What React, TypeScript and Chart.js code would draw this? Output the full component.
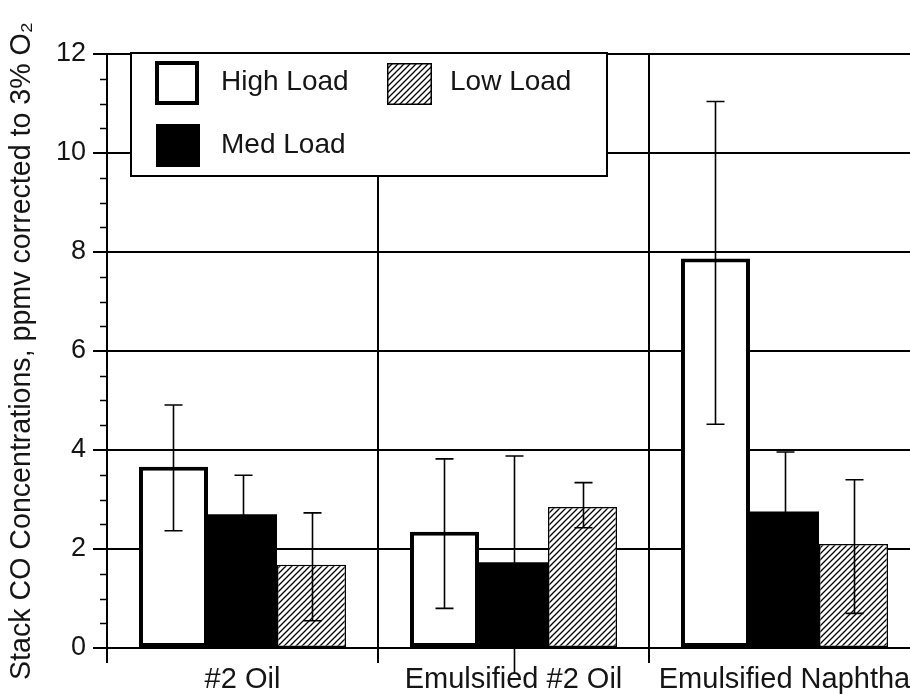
import React, { useEffect, useRef } from 'react';
import { Chart, registerables } from 'chart.js';

Chart.register(...registerables);

// ---- data ----
const categories = ['#2 Oil', 'Emulsified #2 Oil', 'Emulsified Naphtha'];
const seriesNames = ['High Load', 'Med Load', 'Low Load'];

const highLoad = [3.66, 2.35, 7.87];
const highLoadUpper = [4.91, 3.82, 11.04];
const highLoadLower = [2.37, 0.8, 4.52];

const medLoad = [2.7, 1.73, 2.76];
const medLoadUpper = [3.49, 3.88, 3.96];
const medLoadLower = [1.91, -0.5, 1.56];

const lowLoad = [1.68, 2.85, 2.1];
const lowLoadUpper = [2.73, 3.34, 3.4];
const lowLoadLower = [0.55, 2.43, 0.7];

const yTicks = [0, 2, 4, 6, 8, 10, 12];
const yMinorStep = 0.5;
const yTitle = 'Stack CO Concentrations, ppmv corrected to 3% O\u2082';

const FONT_FAMILY = '"Liberation Sans", Arial, Helvetica, sans-serif';
const TEXT_COLOR = '#151515';

// diagonal "////" hatch used for the Low Load series
function makeHatch(ctx: CanvasRenderingContext2D): CanvasPattern | string {
  const s = 6;
  const c = document.createElement('canvas');
  c.width = s;
  c.height = s;
  const g = c.getContext('2d');
  if (!g) return '#888';
  g.fillStyle = '#fff';
  g.fillRect(0, 0, s, s);
  g.strokeStyle = '#000';
  g.lineWidth = 1.3;
  g.beginPath();
  g.moveTo(-1, s + 1);
  g.lineTo(s + 1, -1);
  g.moveTo(-2, 2);
  g.lineTo(2, -2);
  g.moveTo(s - 2, s + 2);
  g.lineTo(s + 2, s - 2);
  g.stroke();
  return ctx.createPattern(c, 'repeat') || '#888';
}

// vertical error bars with caps, placed on each bar through the y scale
const errorBarPlugin = {
  id: 'errorBars',
  afterDatasetsDraw(chart: any) {
    const { ctx } = chart;
    const yScale = chart.scales.y;
    chart.data.datasets.forEach((ds: any, di: number) => {
      const meta = chart.getDatasetMeta(di);
      meta.data.forEach((bar: any, i: number) => {
        const x = Math.round(bar.x) + 0.5;
        const yU = yScale.getPixelForValue(ds.errUpper[i]);
        const yL = yScale.getPixelForValue(ds.errLower[i]);
        const half = 9;
        ctx.save();
        ctx.strokeStyle = '#000';
        ctx.lineWidth = 1.6;
        ctx.beginPath();
        ctx.moveTo(x, yU);
        ctx.lineTo(x, yL);
        ctx.moveTo(x - half, yU);
        ctx.lineTo(x + half, yU);
        if (ds.lowerCap) {
          ctx.moveTo(x - half, yL);
          ctx.lineTo(x + half, yL);
        }
        ctx.stroke();
        ctx.restore();
      });
    });
  },
};

// short minor ticks on the left side of the y axis
const minorTickPlugin = {
  id: 'minorTicks',
  afterDraw(chart: any) {
    const { ctx, chartArea } = chart;
    const yScale = chart.scales.y;
    const major = yTicks[1] - yTicks[0];
    ctx.save();
    ctx.strokeStyle = '#000';
    ctx.lineWidth = 1.5;
    ctx.beginPath();
    for (let v = yTicks[0]; v <= yTicks[yTicks.length - 1] + 1e-9; v += yMinorStep) {
      if (Math.abs(v / major - Math.round(v / major)) < 1e-6) continue;
      const y = Math.round(yScale.getPixelForValue(v)) + 0.5;
      ctx.moveTo(chartArea.left - 7, y);
      ctx.lineTo(chartArea.left, y);
    }
    ctx.stroke();
    ctx.restore();
  },
};

// boxed legend inside the plot, two columns
const boxLegendPlugin = {
  id: 'boxLegend',
  afterDraw(chart: any) {
    const { ctx, chartArea } = chart;
    const L = chartArea.left + 24;
    const T = chartArea.top - 1;
    const W = 476;
    const H = 123;
    ctx.save();
    ctx.fillStyle = '#fff';
    ctx.fillRect(L, T, W, H);
    ctx.strokeStyle = '#000';
    ctx.lineWidth = 2;
    ctx.strokeRect(L, T, W, H);

    const items = [
      { di: 0, sx: L + 24, sy: T + 8, sw: 44, sh: 44, tx: L + 90, ty: T + 37 },
      { di: 1, sx: L + 25, sy: T + 71, sw: 44, sh: 43, tx: L + 90, ty: T + 100 },
      { di: 2, sx: L + 256, sy: T + 10, sw: 45, sh: 42, tx: L + 319, ty: T + 37 },
    ];
    ctx.font = `28px ${FONT_FAMILY}`;
    ctx.textBaseline = 'alphabetic';
    ctx.textAlign = 'left';
    items.forEach((it) => {
      const ds = chart.data.datasets[it.di];
      const bw = ds.borderWidth || 0;
      if (bw > 0) {
        ctx.fillStyle = ds.borderColor;
        ctx.fillRect(it.sx, it.sy, it.sw, it.sh);
      }
      ctx.fillStyle = ds.backgroundColor;
      ctx.fillRect(it.sx + bw, it.sy + bw, it.sw - 2 * bw, it.sh - 2 * bw);
      ctx.fillStyle = TEXT_COLOR;
      ctx.fillText(ds.label, it.tx, it.ty);
    });
    ctx.restore();
  },
};

export default function App() {
  const canvasRef = useRef<HTMLCanvasElement | null>(null);

  useEffect(() => {
    const canvas = canvasRef.current;
    if (!canvas) return;
    const ctx = canvas.getContext('2d');
    if (!ctx) return;
    const hatch = makeHatch(ctx);

    const chart = new Chart(ctx, {
      type: 'bar',
      data: {
        labels: categories,
        datasets: [
          {
            label: seriesNames[0],
            data: highLoad,
            backgroundColor: '#fff',
            borderColor: '#000',
            borderWidth: 4,
            borderSkipped: false,
            errUpper: highLoadUpper,
            errLower: highLoadLower,
            lowerCap: true,
          } as any,
          {
            label: seriesNames[1],
            data: medLoad,
            backgroundColor: '#000',
            borderColor: '#000',
            borderWidth: 0,
            errUpper: medLoadUpper,
            errLower: medLoadLower,
            lowerCap: false,
          } as any,
          {
            label: seriesNames[2],
            data: lowLoad,
            backgroundColor: hatch,
            borderColor: '#000',
            borderWidth: 1.5,
            borderSkipped: false,
            errUpper: lowLoadUpper,
            errLower: lowLoadLower,
            lowerCap: true,
          } as any,
        ],
      },
      options: {
        responsive: false,
        animation: false,
        events: [],
        datasets: {
          bar: { categoryPercentage: 0.764, barPercentage: 1.0 },
        },
        layout: { padding: { top: 54, right: 10, bottom: 0, left: 0 } },
        plugins: {
          legend: { display: false },
          tooltip: { enabled: false },
        },
        scales: {
          x: {
            offset: true,
            grid: {
              offset: true,
              color: '#000',
              lineWidth: 2,
              tickLength: 15,
              tickColor: '#000',
            },
            border: { color: '#000', width: 2 },
            ticks: {
              color: TEXT_COLOR,
              font: { family: FONT_FAMILY, size: 29 },
              padding: 0,
              maxRotation: 0,
              autoSkip: false,
            },
            afterFit: (s: any) => {
              s.height = 46;
            },
          },
          y: {
            min: yTicks[0],
            max: yTicks[yTicks.length - 1],
            ticks: {
              stepSize: yTicks[1] - yTicks[0],
              color: TEXT_COLOR,
              font: { family: FONT_FAMILY, size: 27 },
              padding: 7,
            },
            grid: {
              color: '#000',
              lineWidth: 2,
              tickLength: 14,
              tickColor: '#000',
            },
            border: { color: '#000', width: 2 },
            title: {
              display: true,
              text: yTitle,
              color: TEXT_COLOR,
              font: { family: FONT_FAMILY, size: 28.6 },
              padding: { top: 5, bottom: 0 },
            },
            afterFit: (s: any) => {
              s.width = 107;
            },
          },
        },
      } as any,
      plugins: [errorBarPlugin, minorTickPlugin, boxLegendPlugin],
    });

    return () => {
      chart.destroy();
    };
  }, []);

  return (
    <div
      style={{
        position: 'fixed',
        left: 0,
        top: 0,
        width: 910,
        height: 694,
        overflow: 'hidden',
        background: '#fff',
      }}
    >
      <canvas
        ref={canvasRef}
        width={930}
        height={694}
        style={{ display: 'block', width: 930, height: 694 }}
      />
    </div>
  );
}
